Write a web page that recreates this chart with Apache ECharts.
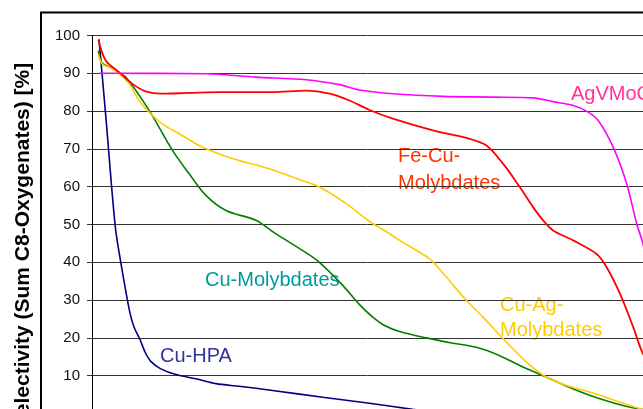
<!DOCTYPE html>
<html>
<head>
<meta charset="utf-8">
<script src="https://cdn.jsdelivr.net/npm/echarts@6/dist/echarts.min.js"></script>
<style>
html,body{margin:0;padding:0;background:#fff;}
#c{width:643px;height:409px;}
</style>
</head>
<body>
<div id="c"></div>
<script>
// x: relative position along the (hidden) x axis, 0..100
var yTicks = [10, 20, 30, 40, 50, 60, 70, 80, 90, 100];

var cuHPA = [[1.27,99],[2.6,77],[3.5,61],[4.31,48.4],[5.22,40],[6.18,32],[6.91,26.5],[7.64,22.8],[8.73,19.5],[9.64,16.2],[10.67,13.8],[12.49,11.8],[15.22,10.3],[18.85,9.2],[22.49,7.9],[26.73,7.2],[32.78,6.1],[41.87,4.3],[50.36,2.7],[58.18,1.1],[62,0.4]];

var cuMo = [[1.15,96],[1.82,92.8],[3.64,91.3],[4.91,90.1],[6.13,89],[10.36,80.2],[14.6,69.6],[17.64,63.4],[20.67,57.7],[24.31,53.7],[29.76,51.1],[33.4,47.5],[38.24,43.1],[41.27,40],[45.51,33.9],[48.55,28.8],[50.96,25.5],[53.09,23.3],[55.82,21.7],[60.67,20.0],[65.51,18.6],[69.76,17.5],[74.0,15.3],[77.64,12.7],[82.49,9.6],[87.33,6.5],[92.18,3.9],[97.04,1.85],[100,1.06],[102,0.3]];

var cuAg = [[1.15,95.1],[1.82,92.5],[3.64,91.2],[4.91,90],[6.73,87.2],[8.55,82.8],[10.36,79.7],[12.78,76.6],[15.82,74],[19.45,70.9],[23.69,68.3],[26.73,66.9],[31.58,65],[38.24,61.6],[41.27,59.9],[46.13,55.5],[50.36,50.8],[53.09,48.4],[55.82,45.8],[61.27,40.9],[64.31,36.1],[67.95,29.9],[70.96,25.5],[74.6,19.8],[78.85,13.6],[82.49,9.6],[86.13,7.4],[90.96,5.4],[95.82,3.0],[100,1.06],[102,0.5]];

var feCu = [[1.15,98.9],[2.49,93.4],[4.91,90.3],[7.33,87.2],[9.76,85.2],[12.49,84.6],[17.64,84.8],[23.69,85.0],[32.78,85.0],[38.85,85.4],[43.09,84.6],[46.73,82.8],[50.36,80.3],[54.6,78.0],[61.87,74.9],[67.95,72.9],[71.58,70.9],[74.6,66.1],[77.64,59.9],[80.05,54.6],[81.87,51.1],[83.69,48.4],[87.33,45.8],[91.58,42.2],[93.4,38.7],[95.82,31.7],[98.24,22.8],[100,15.8],[103.1,8.7]];

var agv = [[1.27,90],[20.67,89.9],[29.76,89.0],[38.85,88.3],[44.91,87.0],[48.55,85.6],[54.6,84.6],[63.69,83.9],[72.78,83.7],[80.05,83.5],[83.69,82.5],[87.33,81.5],[89.76,80.0],[91.87,77.5],[94.6,70.4],[97.04,60.8],[98.85,50.2],[100,44.9],[101.27,35]];

var seriesNames = ['Cu-HPA', 'Cu-Molybdates', 'Cu-Ag-Molybdates', 'Fe-Cu-Molybdates', 'AgVMoO'];
var yAxisTitle = 'Selectivity (Sum C8-Oxygenates) [%]';

var chart = echarts.init(document.getElementById('c'), null, {renderer: 'canvas'});

function mk(name, data, color, w) {
  return {
    name: name, type: 'line', data: data, smooth: 0.3, symbol: 'none',
    lineStyle: {color: color, width: w}, clip: true, animation: false
  };
}

var lblFont = '20px "Liberation Sans", Arial, sans-serif';

chart.setOption({
  animation: false,
  grid: {left: 92, top: 35.5, right: 0, height: 378, containLabel: false, outerBoundsMode: 'none'},
  xAxis: {type: 'value', min: 0, max: 100, show: false},
  yAxis: {
    type: 'value', min: 0, max: 100, interval: 10,
    axisLine: {show: true, lineStyle: {color: '#000', width: 1}},
    axisTick: {show: true, length: 5, lineStyle: {color: '#333'}},
    axisLabel: {
      margin: 12, color: '#111', fontSize: 15,
      fontFamily: '"Liberation Sans", Arial, sans-serif',
      formatter: function (v) { return yTicks.indexOf(v) >= 0 ? String(v) : ''; }
    },
    splitLine: {show: true, lineStyle: {color: '#333', width: 1}}
  },
  series: [
    mk(seriesNames[0], cuHPA, '#000080', 1.6),
    mk(seriesNames[1], cuMo, '#008000', 1.6),
    mk(seriesNames[2], cuAg, '#FFCC00', 1.6),
    mk(seriesNames[3], feCu, '#FF0000', 1.8),
    mk(seriesNames[4], agv, '#FF00FF', 1.6)
  ],
  graphic: [
    {type: 'rect', shape: {x: 41, y: 12.5, width: 700, height: 500}, style: {fill: 'none', stroke: '#000', lineWidth: 2}, silent: true},
    {type: 'text', x: 23, y: 246, rotation: Math.PI / 2,
      style: {text: yAxisTitle, font: 'bold 21px "Liberation Sans", Arial, sans-serif', fill: '#000', textAlign: 'center', textVerticalAlign: 'middle'}},
    {type: 'text', x: 571, y: 94, style: {text: 'AgVMoO', font: lblFont, fill: '#FF3399', textAlign: 'left', textVerticalAlign: 'middle'}},
    {type: 'text', x: 398, y: 170, style: {text: 'Fe-Cu-\nMolybdates', font: lblFont, fill: '#FF3300', lineHeight: 26.5, textAlign: 'left', textVerticalAlign: 'middle'}},
    {type: 'text', x: 205, y: 280, style: {text: 'Cu-Molybdates', font: lblFont, fill: '#009999', textAlign: 'left', textVerticalAlign: 'middle'}},
    {type: 'text', x: 500, y: 318, style: {text: 'Cu-Ag-\nMolybdates', font: lblFont, fill: '#FFCC00', lineHeight: 25.5, textAlign: 'left', textVerticalAlign: 'middle'}},
    {type: 'text', x: 160, y: 356, style: {text: 'Cu-HPA', font: lblFont, fill: '#333399', textAlign: 'left', textVerticalAlign: 'middle'}}
  ]
});
</script>
</body>
</html>
